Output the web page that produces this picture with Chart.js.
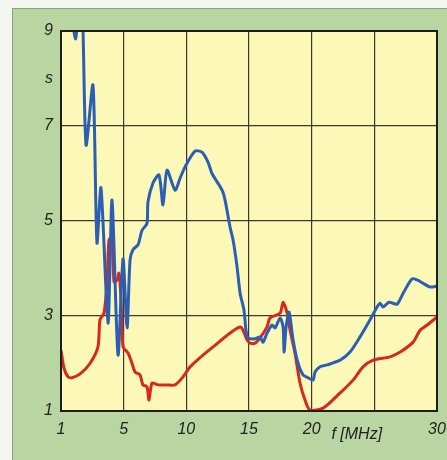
<!DOCTYPE html>
<html>
<head>
<meta charset="utf-8">
<script src="https://cdn.jsdelivr.net/npm/chart.js@4/dist/chart.umd.min.js"></script>
<style>
  html, body { margin: 0; padding: 0; background: #f4f6f0; }
  #wrap { position: relative; width: 447px; height: 460px; overflow: hidden; }
  #panel { position: absolute; left: 12px; top: 8px; width: 460px; height: 470px;
           background: #b8d5a2; border: 1px solid #8ba584; }
  #c { position: absolute; left: 0; top: 0; }
</style>
</head>
<body>
<div id="wrap">
  <div id="panel"></div>
  <canvas id="c" width="447" height="460"></canvas>
</div>
<script>
// x positions on the frequency axis (axis runs 0..30, first tick labelled "1")
const blueF = [0.88, 1.16, 1.36, 1.68, 2.0, 2.55, 2.87, 3.19, 3.75, 4.07, 4.55, 4.95, 5.27, 5.51, 5.75,
  6.15, 6.46, 6.86, 6.94, 7.34, 7.82, 8.14, 8.46, 9.1, 9.5, 9.9, 10.69, 11.25, 11.73, 12.05, 12.85,
  13.09, 13.49, 13.73, 14.05, 14.29, 14.6, 14.76, 14.92, 15.48, 15.88, 16.12, 16.44, 16.84, 17.08,
  17.48, 17.72, 17.8, 17.96, 18.2, 18.52, 18.91, 19.31, 19.71, 20.11, 20.27, 20.67, 21.23, 22.27,
  23.06, 23.86, 24.66, 25.22, 25.46, 25.7, 26.18, 26.82, 27.3, 28.01, 28.41, 28.89, 29.45, 30.0];
const blueS = [9.3, 8.83, 9.3, 9.6, 6.6, 7.86, 4.54, 5.7, 2.85, 5.44, 2.18, 4.2, 2.75, 4.18, 4.4,
  4.5, 4.8, 4.95, 5.4, 5.8, 5.97, 5.34, 6.07, 5.65, 5.9, 6.14, 6.47, 6.45, 6.24, 6.0, 5.65,
  5.44, 4.87, 4.6, 4.03, 3.48, 3.12, 2.7, 2.54, 2.52, 2.56, 2.45, 2.64, 2.81, 2.75,
  2.96, 2.77, 2.24, 2.77, 3.08, 2.49, 2.01, 1.76, 1.7, 1.65, 1.82, 1.93, 1.97, 2.07,
  2.24, 2.56, 2.92, 3.19, 3.27, 3.19, 3.29, 3.25, 3.48, 3.78, 3.76, 3.69, 3.61, 3.63];

const redF = [0, 0.24, 0.56, 0.88, 1.52, 2.31, 2.95, 3.11, 3.43, 3.67, 3.83, 4.07, 4.23, 4.47, 4.63,
  4.79, 4.95, 5.35, 5.67, 5.91, 6.3, 6.54, 6.86, 7.02, 7.26, 7.74, 8.46, 9.1, 9.74, 10.3, 12.13,
  14.29, 14.84, 15.08, 15.48, 15.88, 16.44, 16.68, 17.48, 17.72, 18.04, 18.28, 18.68, 19.07, 19.47,
  19.87, 20.91, 22.27, 23.3, 24.1, 24.9, 26.26, 27.06, 28.09, 28.65, 29.21, 30.0];
const redS = [2.28, 1.9, 1.72, 1.7, 1.78, 2.0, 2.35, 2.92, 3.06, 3.7, 4.6, 4.66, 3.72, 3.76, 3.9,
  3.34, 2.35, 2.22, 2.0, 1.82, 1.76, 1.55, 1.51, 1.23, 1.59, 1.55, 1.55, 1.55, 1.72, 1.93, 2.35,
  2.77, 2.5, 2.43, 2.43, 2.54, 2.77, 2.96, 3.06, 3.29, 3.06, 2.7, 2.2, 1.59, 1.23,
  1.02, 1.06, 1.38, 1.65, 1.93, 2.07, 2.14, 2.24, 2.45, 2.7, 2.81, 2.98];

const xTickLabels = { 0: '1', 5: '5', 10: '10', 15: '15', 20: '20', 30: '30' };
const yTickLabels = { 1: '1', 3: '3', 5: '5', 7: '7', 8: 's', 9: '9' };

const font = { family: 'Liberation Sans', size: 16, style: 'italic' };

const plotFrame = {
  id: 'plotFrame',
  beforeDraw(chart) {
    const a = chart.chartArea, ctx = chart.ctx;
    ctx.save();
    ctx.fillStyle = '#fcf8b8';
    ctx.fillRect(a.left, a.top, a.right - a.left, a.bottom - a.top);
    ctx.restore();
  },
  afterDatasetsDraw(chart) {
    const a = chart.chartArea, ctx = chart.ctx;
    ctx.save();
    ctx.strokeStyle = '#1e1e18';
    ctx.lineWidth = 2;
    ctx.strokeRect(a.left, a.top, a.right - a.left, a.bottom - a.top);
    ctx.fillStyle = '#222';
    ctx.font = 'italic 16px "Liberation Sans"';
    ctx.textAlign = 'center';
    ctx.textBaseline = 'middle';
    ctx.fillText('f [MHz]', chart.scales.x.getPixelForValue(23.6), 435);
    ctx.restore();
  }
};

new Chart(document.getElementById('c'), {
  type: 'line',
  data: {
    datasets: [
      {
        data: blueF.map((f, i) => ({ x: f, y: blueS[i] })),
        borderColor: '#2b5fb6',
        borderWidth: 3,
        pointRadius: 0,
        tension: 0.25
      },
      {
        data: redF.map((f, i) => ({ x: f, y: redS[i] })),
        borderColor: '#d6281f',
        borderWidth: 3,
        pointRadius: 0,
        tension: 0.25
      }
    ]
  },
  options: {
    responsive: false,
    animation: false,
    layout: { padding: { top: 31, right: 10, left: 0, bottom: 0 } },
    plugins: { legend: { display: false }, tooltip: { enabled: false } },
    scales: {
      x: {
        type: 'linear',
        min: 0,
        max: 30,
        afterFit: s => { s.height = 49; s.paddingRight = 0; s.paddingLeft = 0; },
        ticks: {
          stepSize: 5,
          padding: 9,
          color: '#222',
          font: font,
          maxRotation: 0,
          callback: v => xTickLabels[v] !== undefined ? xTickLabels[v] : ''
        },
        grid: { color: '#3b3a2c', lineWidth: 1.2, drawTicks: false },
        border: { display: false }
      },
      y: {
        min: 1,
        max: 9,
        afterFit: s => { s.width = 61; },
        ticks: {
          stepSize: 1,
          padding: 8,
          color: '#222',
          font: font,
          callback: v => yTickLabels[v] !== undefined ? yTickLabels[v] : ''
        },
        grid: {
          color: c => (c.tick && c.tick.value % 2 === 1) ? '#3b3a2c' : 'rgba(0,0,0,0)',
          lineWidth: 1.2,
          drawTicks: false
        },
        border: { display: false }
      }
    }
  },
  plugins: [plotFrame]
});
</script>
</body>
</html>
